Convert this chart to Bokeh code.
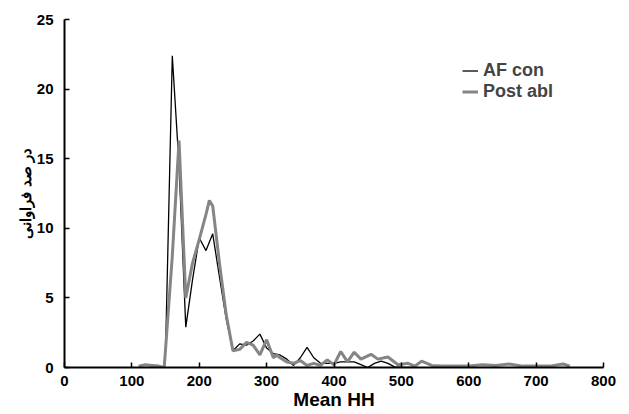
from bokeh.plotting import figure
from bokeh.models import Legend, LegendItem, Range1d, FixedTicker
from bokeh.embed import file_html
from bokeh.resources import INLINE

# AF con (black)
af_x = [150, 160, 170, 180, 190, 200, 210, 220, 230, 240, 250, 260, 270, 280, 290,
        300, 310, 320, 330, 340, 350, 360, 370, 380, 390, 400, 410, 420, 430, 440,
        450, 460, 470, 480, 490, 500, 520]
af_y = [1.2, 22.4, 14.5, 2.9, 6.3, 9.3, 8.4, 9.6, 6.5, 3.5, 1.2, 1.7, 1.6, 1.9, 2.4,
        1.4, 1.0, 0.9, 0.6, 0.15, 0.7, 1.45, 0.7, 0.3, 0.3, 0.3, 0.4, 0.4, 0.4, 0.2,
        0.0, 0.3, 0.45, 0.3, 0.05, 0.0, 0.0]

# Post abl (grey)
pa_x = [110, 120, 130, 140, 148, 160, 170, 180, 190, 200, 210, 215, 220, 230, 240,
        250, 260, 270, 280, 290, 300, 310, 315, 320, 330, 340, 350, 360, 370, 380,
        390, 400, 410, 420, 430, 440, 455, 465, 480, 495, 510, 520, 530, 545, 560,
        580, 600, 620, 640, 660, 680, 700, 720, 740, 750]
pa_y = [0.1, 0.2, 0.15, 0.1, 0.0, 8.0, 16.3, 5.0, 7.5, 9.2, 11.0, 12.0, 11.6, 7.5, 3.8,
        1.2, 1.3, 1.8, 1.6, 0.9, 2.0, 0.7, 0.9, 0.7, 0.4, 0.3, 0.5, 0.15, 0.3, 0.15,
        0.55, 0.2, 1.15, 0.4, 1.1, 0.6, 0.95, 0.6, 0.75, 0.2, 0.3, 0.1, 0.45, 0.15, 0.1,
        0.1, 0.1, 0.2, 0.15, 0.25, 0.1, 0.1, 0.1, 0.25, 0.1]

x_ticks = [0, 100, 200, 300, 400, 500, 600, 700, 800]
y_ticks = [0, 5, 10, 15, 20, 25]

p = figure(width=621, height=414, output_backend="svg", toolbar_location=None,
           x_range=Range1d(0, 800), y_range=Range1d(0, 25),
           min_border_left=64, min_border_right=18, min_border_top=19, min_border_bottom=47)
p.outline_line_color = None
p.grid.grid_line_color = None

FONT = "Liberation Sans"

r1 = p.line(af_x, af_y, line_color="black", line_width=1.3)
r2 = p.line(pa_x, pa_y, line_color="#858585", line_width=3)

for ax in (p.xaxis[0], p.yaxis[0]):
    ax.axis_line_color = "black"
    ax.axis_line_width = 2
    ax.major_tick_in = 5
    ax.major_tick_out = 0
    ax.major_tick_line_width = 1.5
    ax.minor_tick_line_color = None
    ax.major_label_text_font = FONT
    ax.major_label_text_font_style = "bold"
    ax.major_label_text_font_size = "15px"
    ax.major_label_text_color = "black"
    ax.axis_label_text_font = FONT
    ax.axis_label_text_font_style = "bold"
    ax.axis_label_text_color = "black"

p.xaxis.ticker = FixedTicker(ticks=x_ticks)
p.yaxis.ticker = FixedTicker(ticks=y_ticks)
p.xaxis.major_label_standoff = 8
p.yaxis.major_label_standoff = 11
p.xaxis.axis_label = "Mean HH"
p.xaxis.axis_label_text_font_size = "19px"
p.xaxis.axis_label_standoff = 0
p.yaxis.axis_label = "در صد فراوانی"
p.yaxis.axis_label_text_font_size = "15px"
p.yaxis.axis_label_standoff = 0

legend = Legend(items=[LegendItem(label="AF con", renderers=[r1]),
                       LegendItem(label="Post abl", renderers=[r2])],
                location=(398, 265), orientation="vertical")
legend.padding = 0
legend.margin = 0
legend.spacing = 0
legend.border_line_alpha = 0
legend.background_fill_alpha = 0
legend.glyph_width = 16
legend.glyph_height = 19
legend.label_height = 19
legend.label_standoff = 5
legend.label_text_font = FONT
legend.label_text_font_style = "bold"
legend.label_text_font_size = "18px"
p.add_layout(legend)

open("out.html", "w").write(file_html(p, INLINE))
